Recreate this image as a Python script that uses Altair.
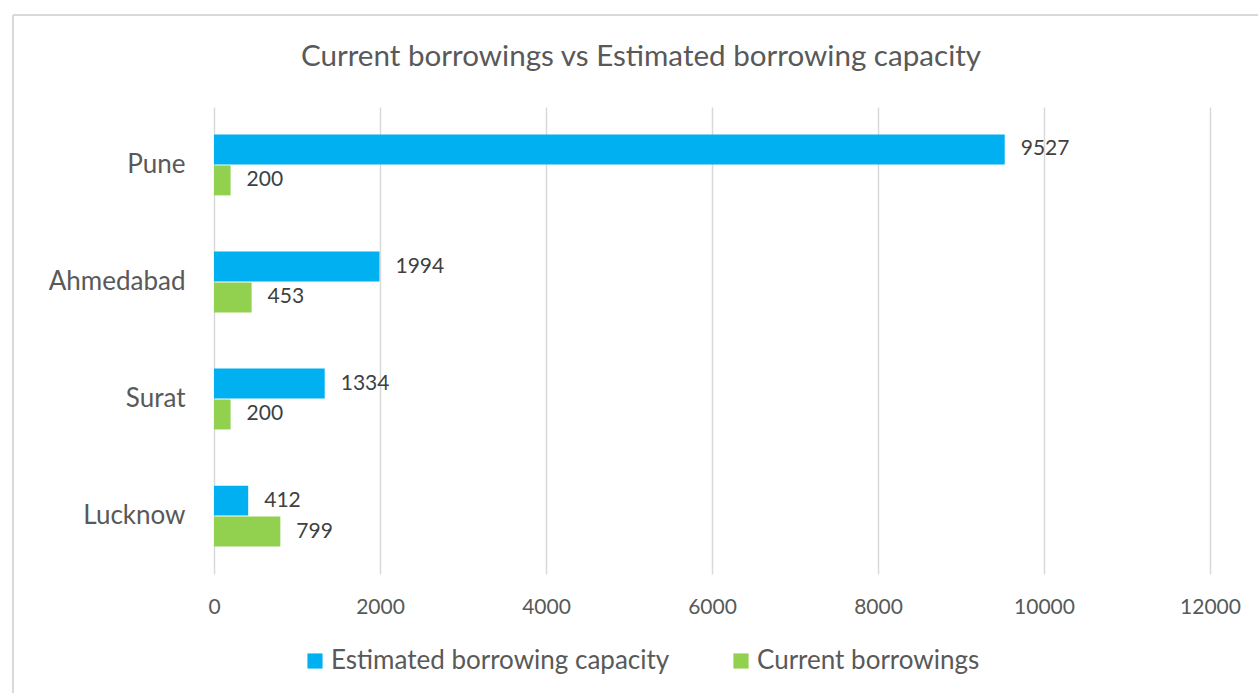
import altair as alt
import pandas as pd

cities = ["Pune", "Ahmedabad", "Surat", "Lucknow"]
series_names = ["Estimated borrowing capacity", "Current borrowings"]
estimated = [9527, 1994, 1334, 412]
current = [200, 453, 200, 799]
x_ticks = [0, 2000, 4000, 6000, 8000, 10000, 12000]
colors = ["#00B0F0", "#92D050"]
title_text = "Current borrowings vs Estimated borrowing capacity"

rows = []
for c, e, cu in zip(cities, estimated, current):
    rows.append({"city": c, "series": series_names[0], "value": e})
    rows.append({"city": c, "series": series_names[1], "value": cu})
df = pd.DataFrame(rows)

FONT = "Lato"
TXT = "#595959"

base = alt.Chart(df).encode(
    y=alt.Y("city:N", sort=cities, title=None,
            scale=alt.Scale(paddingInner=0.48, paddingOuter=0.235),
            axis=alt.Axis(domain=False, ticks=False, labelFontSize=26, labelColor=TXT,
                          labelFont=FONT, labelPadding=29)),
    x=alt.X("value:Q", title=None, scale=alt.Scale(domain=[0, 12000], nice=False),
            axis=alt.Axis(values=x_ticks, domain=False, ticks=False, grid=True,
                          gridColor="#D9D9D9", gridWidth=1.5, labelFontSize=21,
                          labelColor=TXT, labelFont=FONT, labelPadding=22, format="d",
                          labelFlush=False)),
    yOffset=alt.YOffset("series:N", sort=series_names, scale=alt.Scale(paddingInner=0.03)),
)

bars = base.mark_bar().encode(
    color=alt.Color("series:N", sort=series_names,
                    scale=alt.Scale(domain=series_names, range=colors),
                    legend=alt.Legend(title=None, orient="none", legendX=88, legendY=541,
                                      direction="horizontal", symbolType="square",
                                      symbolSize=230, symbolStrokeWidth=0,
                                      labelFontSize=26, labelFont=FONT, labelColor=TXT,
                                      labelOffset=3, columnPadding=58, labelLimit=600))
)

labels = base.mark_text(align="left", baseline="middle", dx=16, fontSize=21,
                        font=FONT, color="#404040").encode(text=alt.Text("value:Q", format="d"))

one = pd.DataFrame({"t": [title_text]})
title = alt.Chart(one).mark_text(fontSize=29.6, font=FONT, color=TXT, align="center",
                                 baseline="alphabetic").encode(
    text="t:N", x=alt.value(427), y=alt.value(-41))

border = alt.Chart(one).mark_rule(color="#D9D9D9", strokeWidth=2).encode(
    x=alt.value(-201), y=alt.value(-92), y2=alt.value(600))
border2 = alt.Chart(one).mark_rule(color="#D9D9D9", strokeWidth=2).encode(
    x=alt.value(-201), x2=alt.value(1100), y=alt.value(-92))

chart = alt.layer(border, border2, title, bars, labels).properties(
    width=996, height=467,
    autosize=alt.AutoSizeParams(type="none"),
    padding={"left": 214, "top": 107, "right": 48, "bottom": 119},
).configure_view(stroke=None)

chart.save("out.html", embed_options={"renderer": "svg", "actions": False})
